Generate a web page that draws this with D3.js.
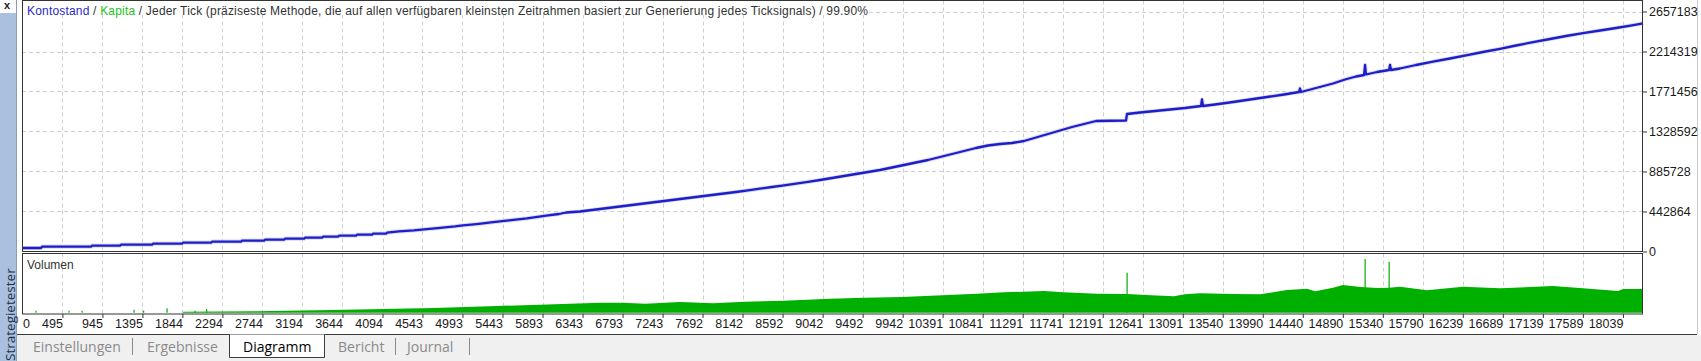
<!DOCTYPE html>
<html><head><meta charset="utf-8">
<script src="https://cdn.jsdelivr.net/npm/d3@7"></script>
<style>
html,body{margin:0;padding:0;background:#fff;overflow:hidden}
svg{display:block}
</style></head><body>
<svg id="c" width="1701" height="361"></svg>
<script>
// ---------- data ----------
const xTickLabels = [0,495,945,1395,1844,2294,2744,3194,3644,4094,4543,4993,5443,5893,6343,6793,7243,7692,8142,8592,9042,9492,9942,10391,10841,11291,11741,12191,12641,13091,13540,13990,14440,14890,15340,15790,16239,16689,17139,17589,18039];
const yTickValues = [0,442864,885728,1328592,1771456,2214319,2657183];
const tradeRange = [41, 18265];

const balanceTrades = [41,255,266,817,828,1143,1154,1503,1514,1840,1851,2166,2177,2503,2514,2762,2773,2987,2998,3212,3223,3414,3425,3594,3605,3796,3807,3976,3987,4134,4145,4279,4448,4561,4684,4797,4909,4999,5123,5224,5314,5415,5516,5617,5719,5797,5876,5955,6078,6157,6314,6449,6584,6719,6854,6989,7124,7259,7394,7529,7664,7798,7933,8068,8203,8338,8473,8608,8743,8878,9013,9148,9282,9417,9552,9687,9822,9957,10092,10227,10362,10497,10632,10766,10901,11036,11171,11306,11441,11576,11711,11846,11981,12116,12453,12464,12610,12779,12948,13116,13296,13307,13318,13453,13656,13847,14038,14229,14398,14409,14420,14589,14780,14915,15039,15129,15140,15151,15275,15410,15421,15432,15533,15713,15904,16095,16275,16466,16658,16837,17029,17220,17400,17591,17782,17962,18142,18265];
const balanceValues = [38751,38751,53144,53144,64215,64215,75287,75287,86358,86358,97430,97430,108502,108502,119573,119573,130645,130645,141716,141716,152788,152788,163860,163860,174931,174931,186003,186003,197074,197074,208146,223646,234718,245790,256861,267933,279004,290076,301148,312219,323291,334362,345434,356506,367577,378649,389720,400792,415185,431792,442864,459471,476079,492686,509294,525901,542508,559116,575723,592331,608938,625545,642153,658760,677582,696404,714118,732940,751762,771691,791619,813763,835906,858049,880192,902335,930014,957693,985372,1013051,1046266,1079481,1112696,1145911,1173590,1190197,1201269,1223412,1262162,1300913,1339664,1378414,1411629,1444844,1450380,1522345,1538952,1555560,1572167,1588775,1610918,1682883,1610918,1627525,1655204,1682883,1710562,1738241,1765920,1804671,1765920,1810207,1860029,1904315,1937530,1954137,2064853,1959673,1987352,2009495,2064853,2009495,2026103,2064853,2101390,2136819,2172248,2208784,2244213,2280750,2317286,2352715,2385930,2416930,2446824,2474503,2504396,2526539];

const volumeTrades = [1851,2672,3515,4100,4673,5021,5381,6033,6539,6798,7045,7439,7810,8169,8608,9125,9507,9934,10193,10778,11081,11531,11744,12127,12464,12734,12992,13116,13285,13656,13959,14263,14488,14578,14780,14892,15061,15140,15275,15410,15533,15837,16242,16658,17253,17591,17984,18041,18254];
const volumeValues = [1,1.4,2.7,3.7,4.7,5.7,6.7,8.4,10,10,9,10.7,9.4,11,12,14,15,15.7,16.7,19,20.4,21.7,20.4,19,18.7,17.4,16.4,18.4,19.4,18.7,18.4,22.7,24,21.4,25,27.7,26,25.4,24.7,25,26,22.4,26,24.4,26.7,24.4,21.7,23.7,23.7];
const volumeBarTrades = [198,569,716,1300,1407,1671,1986,2116,12464,15140,15410];
const volumeBarValues = [2,2,2,3,2,4.4,2,3.7,40,53.7,50.7];
const volumeMax = 58;

const titleParts = [
  {text:"Kontostand", color:"#2a2ac8"},
  {text:" / ", color:"#333"},
  {text:"Kapita", color:"#22c022"},
  {text:" / Jeder Tick (präziseste Methode, die auf allen verfügbaren kleinsten Zeitrahmen basiert zur Generierung jedes Ticksignals) / 99.90%", color:"#333"}
];
const tabNames = ["Einstellungen","Ergebnisse","Diagramm","Bericht","Journal"];
const activeTab = "Diagramm";

// ---------- layout ----------
const L = 22, R = 1643, T = 0.5, TB = 251.5, VT = 253.5, VB = 314;
const svg = d3.select("#c");
const font = "'Liberation Sans', Arial, sans-serif";
const uiFont = "'Open Sans', 'Noto Sans', sans-serif";

const xT = d3.scaleLinear().domain(tradeRange).range([L, R]);
const yB = d3.scaleLinear().domain([0, 2657183]).range([TB, 11.5]);
const yV = d3.scaleLinear().domain([0, volumeMax]).range([VB - 1.3, VB - 1.3 - volumeMax]);

// backgrounds
svg.append("rect").attr("x",0).attr("y",0).attr("width",1701).attr("height",361).attr("fill","#fff");
svg.append("rect").attr("x",17).attr("y",334.5).attr("width",1684).attr("height",27).attr("fill","#f0f0f0");
svg.append("rect").attr("x",0).attr("y",13).attr("width",16).attr("height",348).attr("fill","#a9c1de");
svg.append("line").attr("x1",16.5).attr("x2",16.5).attr("y1",0).attr("y2",361).attr("stroke","#8d9db3");
svg.append("text").attr("x",4).attr("y",8.5).attr("font-family",font).attr("font-weight","bold")
  .attr("font-size",11).attr("fill","#222").text("x");
svg.append("text").attr("transform","translate(14.5,361) rotate(-90)")
  .attr("font-family",uiFont).attr("font-size",13.5).attr("fill","#1c2f48").text("Strategietester");
svg.append("line").attr("x1",1697.5).attr("x2",1697.5).attr("y1",0).attr("y2",334).attr("stroke","#c8c8c8");

// grid
const gridX = xTickLabels.filter(v => v > 0);
const grid = svg.append("g").attr("stroke","#cfcfcf").attr("stroke-dasharray","4,3").attr("fill","none");
gridX.forEach(v => {
  const x = Math.round(xT(v)) + 0.5;
  grid.append("line").attr("x1",x).attr("x2",x).attr("y1",T).attr("y2",TB);
  grid.append("line").attr("x1",x).attr("x2",x).attr("y1",VT).attr("y2",VB);
});
yTickValues.filter(v => v > 0).forEach(v => {
  const y = Math.round(yB(v)) + 0.5;
  grid.append("line").attr("x1",L).attr("x2",R).attr("y1",y).attr("y2",y);
});

// volume
const vArea = d3.area().x((d,i) => xT(volumeTrades[i])).y0(yV(0)).y1(d => yV(d)).curve(d3.curveLinear);
svg.append("path").datum(volumeValues).attr("d", vArea).attr("fill","#00b000");
svg.append("g").selectAll("rect").data(volumeBarValues).join("rect")
  .attr("x",(d,i) => xT(volumeBarTrades[i]) - 0.5).attr("width",1.2)
  .attr("y", d => yV(d)).attr("height", d => yV(0) - yV(d)).attr("fill","#00b000");

// balance line
const bLine = d3.line().x((d,i) => xT(balanceTrades[i])).y(d => yB(d)).curve(d3.curveLinear);
svg.append("path").datum(balanceValues).attr("d", bLine).attr("fill","none")
  .attr("stroke","#d9d9f4").attr("stroke-width",4.2).attr("stroke-linejoin","round");
svg.append("path").datum(balanceValues).attr("d", bLine).attr("fill","none")
  .attr("stroke","#1e1ec8").attr("stroke-width",2.3).attr("stroke-linejoin","round");

// panel frames
const frame = svg.append("g").attr("fill","none").attr("stroke","#333");
frame.append("rect").attr("x",L+0.5).attr("y",T).attr("width",R-L-1).attr("height",TB-T);
frame.append("rect").attr("x",L+0.5).attr("y",VT).attr("width",R-L-1).attr("height",VB-VT);
svg.append("line").attr("x1",17).attr("x2",1697).attr("y1",334.5).attr("y2",334.5).attr("stroke","#3c3c3c");

// title
svg.append("rect").attr("x",L+1).attr("y",1).attr("width",846).attr("height",14).attr("fill","#fff");
const title = svg.append("text").attr("x",27).attr("y",15).attr("font-family",font).attr("font-size",12)
  .attr("textLength",841).attr("lengthAdjust","spacing");
titleParts.forEach(p => title.append("tspan").attr("fill",p.color).text(p.text));
svg.append("text").attr("x",27).attr("y",268.5).attr("font-family",font).attr("font-size",12)
  .attr("fill","#333").text("Volumen");

// y axis (right)
const yAxis = d3.axisRight(yB).tickValues(yTickValues).tickSize(4).tickPadding(2).tickFormat(d3.format("d"));
const gy = svg.append("g").attr("transform",`translate(${R},0)`).call(yAxis);
gy.select(".domain").remove();
gy.selectAll(".tick line").attr("stroke","#333");
gy.selectAll(".tick text").attr("font-family",font).attr("font-size",12.5).attr("fill","#1a1a1a");

// x axis (bottom)
const xAxis = d3.axisBottom(xT).tickValues(gridX).tickSize(4).tickPadding(1.5).tickFormat(d3.format("d"));
const gx = svg.append("g").attr("transform",`translate(0,${VB})`).call(xAxis);
gx.select(".domain").remove();
gx.selectAll(".tick line").attr("stroke","#333");
gx.selectAll(".tick text").attr("font-family",font).attr("font-size",12.5).attr("fill","#1a1a1a")
  .attr("text-anchor","end").attr("x",0);
svg.append("text").attr("x",23).attr("y",328.3).attr("font-family",font).attr("font-size",12.5)
  .attr("fill","#1a1a1a").text(xTickLabels[0]);

// tabs
const tabX = [33,147,243,338,407];
const sepX = [132.5,395.5,469.5];
svg.append("path").attr("d","M229.5,334.5 V357.5 H324.5 V334.5").attr("fill","#fff").attr("stroke","#3c3c3c");
sepX.forEach(x => svg.append("line").attr("x1",x).attr("x2",x).attr("y1",338).attr("y2",355).attr("stroke","#8a8a8a"));
svg.append("g").selectAll("text").data(tabNames).join("text")
  .attr("x",(d,i) => tabX[i]).attr("y",351.5).attr("font-family",uiFont).attr("font-size",14)
  .attr("fill", d => d === activeTab ? "#000" : "#8a8a8a").text(d => d);
</script>
</body></html>
